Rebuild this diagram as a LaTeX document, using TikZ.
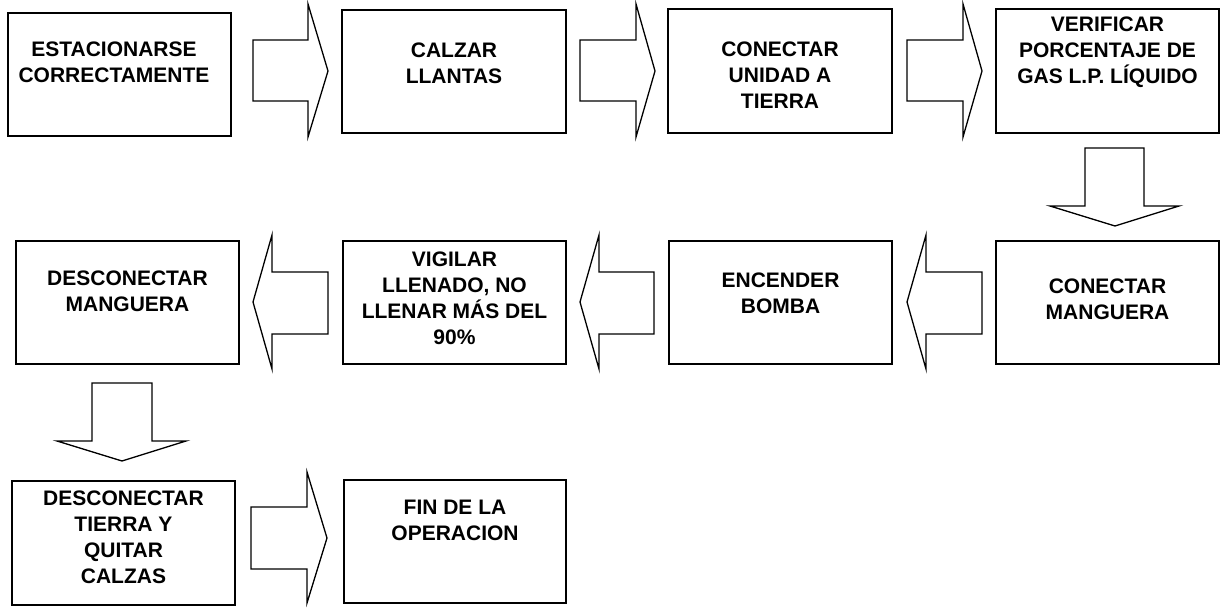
\documentclass[tikz,border=0pt]{standalone}
\usepackage{fontspec}
\setmainfont{Liberation Sans}
\begin{document}
\begin{tikzpicture}[x=1pt,y=-1pt,
  box/.style={draw=black, line width=1.8pt, rectangle, inner sep=0pt},
  lbl/.style={anchor=north, inner sep=0pt, align=center,
    font=\fontsize{21}{26}\selectfont\bfseries},
  blockarrow/.style={draw=black, line width=1.3pt, fill=white, line join=miter}]
\useasboundingbox (0,0) rectangle (1222,609);
% boxes: (left,top) rectangle (right,bottom)
\newcommand{\mybox}[5]{\node[box, minimum width={#3-#1}, minimum height={#4-#2}] (#5) at ({(#1+#3)/2},{(#2+#4)/2}) {};}
\mybox{8}{13}{231}{136}{b1}
\mybox{342}{10}{566}{133}{b2}
\mybox{668}{9}{892}{133}{b3}
\mybox{996}{9}{1219}{133}{b4}
\mybox{996}{241}{1219}{364}{b5}
\mybox{669}{241}{892}{364}{b6}
\mybox{343}{241}{566}{364}{b7}
\mybox{16}{241}{239}{364}{b8}
\mybox{12}{481}{235}{605}{b9}
\mybox{344}{480}{566}{603}{b10}
% texts
\node[lbl] (t1) at (114,42) {ESTACIONARSE\\CORRECTAMENTE};
\node[lbl] (t2) at (b2.center |- 0,43) {CALZAR\\LLANTAS};
\node[lbl] (t3) at (b3.center |- 0,42) {CONECTAR\\UNIDAD A\\TIERRA};
\node[lbl] (t4) at (b4.center |- 0,17) {VERIFICAR\\PORCENTAJE DE\\GAS L.P. LÍQUIDO};
\node[lbl] (t5) at (b5.center |- 0,279) {CONECTAR\\MANGUERA};
\node[lbl] (t6) at (b6.center |- 0,273) {ENCENDER\\BOMBA};
\node[lbl] (t7) at (b7.center |- 0,252) {VIGILAR\\LLENADO, NO\\LLENAR MÁS DEL\\90\%};
\node[lbl] (t8) at (b8.center |- 0,271) {DESCONECTAR\\MANGUERA};
\node[lbl] (t9) at (b9.center |- 0,491) {DESCONECTAR\\TIERRA Y\\QUITAR\\CALZAS};
\node[lbl] (t10) at (b10.center |- 0,500) {FIN DE LA\\OPERACION};
% right arrows, row 1
\draw[blockarrow] (253,40)--(308,40)--(308,4)--(328,71)--(308,137)--(308,101)--(253,101)--cycle;
\draw[blockarrow] (580,40)--(636,40)--(636,4)--(655,71)--(636,137)--(636,101)--(580,101)--cycle;
\draw[blockarrow] (907,40)--(963,40)--(963,4)--(982,71)--(963,137)--(963,101)--(907,101)--cycle;
% down arrow 1
\draw[blockarrow] (1085,148)--(1144,148)--(1144,206)--(1179,206)--(1115,226)--(1050,206)--(1085,206)--cycle;
% left arrows, row 2
\draw[blockarrow] (982,272)--(926,272)--(926,235)--(907,302)--(926,369)--(926,334)--(982,334)--cycle;
\draw[blockarrow] (654,272)--(599,272)--(599,235)--(580,302)--(599,369)--(599,334)--(654,334)--cycle;
\draw[blockarrow] (328,272)--(272,272)--(272,235)--(253,302)--(272,369)--(272,334)--(328,334)--cycle;
% down arrow 2
\draw[blockarrow] (92,383)--(152,383)--(152,441)--(186,441)--(122,461)--(57,441)--(92,441)--cycle;
% right arrow, row 3
\draw[blockarrow] (251,507)--(307,507)--(307,472)--(327,538)--(307,603)--(307,569)--(251,569)--cycle;
\end{tikzpicture}
\end{document}
